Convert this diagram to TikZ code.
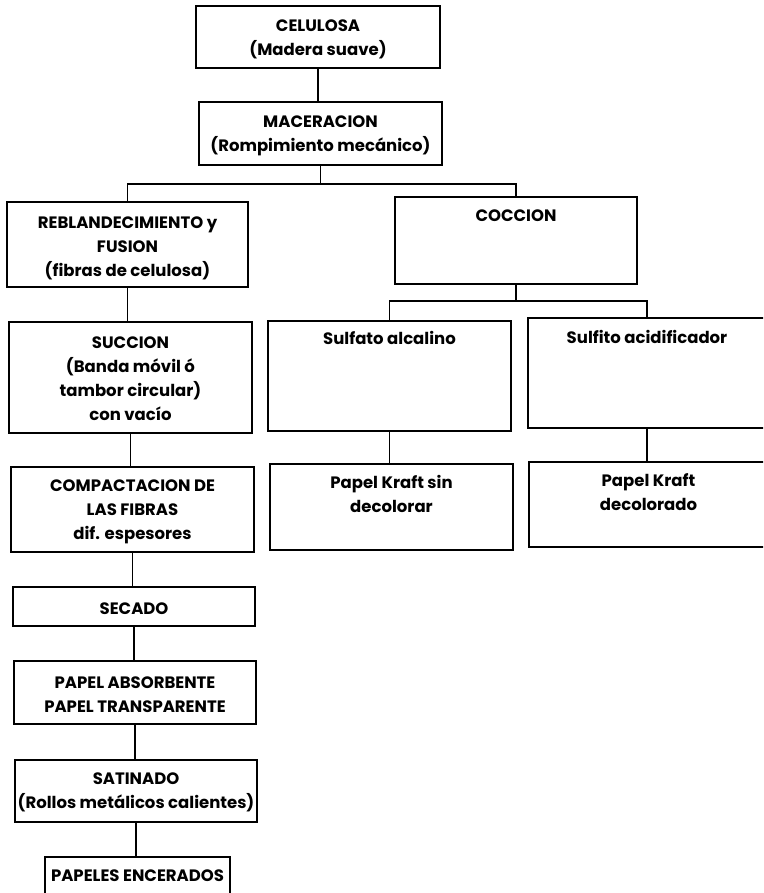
\documentclass[tikz,border=0pt]{standalone}
\usepackage{fontspec}
\setmainfont{Poppins}
\usetikzlibrary{calc}
\tikzset{
  box/.style={draw, line width=1.7pt, inner sep=0pt, rectangle},
  txt/.style={font=\fontsize{16.5}{24}\selectfont\bfseries, align=center, inner sep=0pt, anchor=north},
  conn/.style={line width=1.7pt}
}
\begin{document}
\begin{tikzpicture}[x=1pt,y=-1pt]
\useasboundingbox (0,0) rectangle (763,893);
\clip (0,0) rectangle (763,893);
\fill[white] (0,0) rectangle (763,893);
% boxes
\node[box, minimum width=244pt, minimum height=62pt]  (cel) at (318,37) {};
\node[box, minimum width=243pt, minimum height=63pt]  (mac) at (320.5,133.5) {};
\node[box, minimum width=241pt, minimum height=85pt]  (reb) at (127.5,244.5) {};
\node[box, minimum width=242pt, minimum height=87pt]  (coc) at (516,240.5) {};
\node[box, minimum width=243pt, minimum height=111pt] (suc) at (130.5,377.5) {};
\node[box, minimum width=243pt, minimum height=110pt] (sul) at (389.5,376) {};
\node[box, minimum width=238pt, minimum height=110pt] (sui) at (647,373) {};
\node[box, minimum width=243pt, minimum height=85pt]  (com) at (132.5,509.5) {};
\node[box, minimum width=243pt, minimum height=86pt]  (kra) at (391.5,507) {};
\node[box, minimum width=239pt, minimum height=85pt]  (krd) at (648.5,504.5) {};
\node[box, minimum width=242pt, minimum height=39pt]  (sec) at (134,606.5) {};
\node[box, minimum width=242pt, minimum height=63pt]  (pab) at (135,692.5) {};
\node[box, minimum width=242pt, minimum height=62pt]  (sat) at (136,791) {};
\node[box, minimum width=185pt, minimum height=46pt]  (pen) at (137.5,880) {};
% texts
\node[txt] (celt) at ($(cel.north)+(0,9)$) {\strut CELULOSA\\\strut (Madera suave)};
\node[txt] (mact) at ($(mac.north)+(0,9)$) {\strut MACERACION\\\strut (Rompimiento mecánico)};
\node[txt] (rebt) at ($(reb.north)+(0,10)$) {\strut REBLANDECIMIENTO y\\\strut FUSION\\\strut (fibras de celulosa)};
\node[txt] (coct) at ($(coc.north)+(0,8)$) {\strut COCCION};
\node[txt] (suct) at ($(suc.north)+(0,10)$) {\strut SUCCION\\\strut (Banda móvil ó\\\strut tambor circular)\\\strut con vacío};
\node[txt] (sult) at ($(sul.north)+(0,7)$) {\strut Sulfato alcalino};
\node[txt] (suit) at ($(sui.north)+(0,9)$) {\strut Sulfito acidificador};
\node[txt] (comt) at ($(com.north)+(0,8)$) {\strut COMPACTACION DE\\\strut LAS FIBRAS\\\strut dif. espesores};
\node[txt] (krat) at ($(kra.north)+(0,8)$) {\strut Papel Kraft sin\\\strut decolorar};
\node[txt] (krdt) at ($(krd.north)+(0,8)$) {\strut Papel Kraft\\\strut decolorado};
\node[txt] (sect) at ($(sec.north)+(0,11)$) {\strut SECADO};
\node[txt] (pabt) at ($(pab.north)+(0,11)$) {\strut PAPEL ABSORBENTE\\\strut PAPEL TRANSPARENTE};
\node[txt] (satt) at ($(sat.north)+(0,8)$) {\strut SATINADO\\\strut (Rollos metálicos calientes)};
\node[txt] (pent) at ($(pen.north)+(0,8)$) {\strut PAPELES ENCERADOS};
% junctions
\coordinate (j1) at ($(mac.south)+(0,18)$);
\coordinate (j2) at ($(coc.south)+(0,16)$);
% connectors
\draw[conn] (cel.south) -- (cel.south |- mac.north);
\draw[conn] (mac.south) -- (j1);
\draw[conn] (reb.north) |- (j1) -| (coc.north);
\draw[conn] (coc.south) -- (j2);
\draw[conn] (sul.north) |- (j2) -| (sui.north);
\draw[conn] (reb.south) -- (reb.south |- suc.north);
\draw[conn] (suc.south) -- (suc.south |- com.north);
\draw[conn] (com.south) -- (com.south |- sec.north);
\draw[conn] (sec.south) -- (sec.south |- pab.north);
\draw[conn] (pab.south) -- (pab.south |- sat.north);
\draw[conn] (sat.south) -- (sat.south |- pen.north);
\draw[conn] (sul.south) -- (sul.south |- kra.north);
\draw[conn] (sui.south) -- (sui.south |- krd.north);
\end{tikzpicture}
\end{document}
